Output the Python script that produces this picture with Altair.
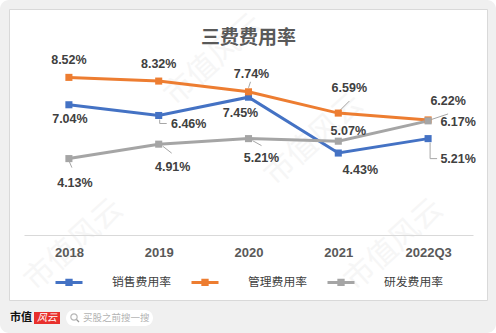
import json
import altair as alt
import pandas as pd

# ---------------- data ----------------
years = ["2018", "2019", "2020", "2021", "2022Q3"]
sales_rate = [7.04, 6.46, 7.45, 4.43, 5.21]
admin_rate = [8.52, 8.32, 7.74, 6.59, 6.22]
rd_rate = [4.13, 4.91, 5.21, 5.07, 6.17]
series = ["销售费用率", "管理费用率", "研发费用率"]
colors = ["#4472C4", "#ED7D31", "#A5A5A5"]
title_text = "三费费用率"

# ---------------- layout (not data) ----------------
W, H = 449, 185
YMAX = 10
STEP = W / len(years)
PPU = H / YMAX
# pixel offsets of each data label from its point (per series)
label_dx = [[1, 30, -8, 22, 30], [0, 0, 3, 11, 20], [6, 14, 13, 10, 30]]
label_dy = [[14, 9, 16, 17, 20], [-17, -17, -18, -25, -19], [24, 23, 19, -10, 1]]
# leader segments: (series, point, x1, y1, x2, y2) pixel offsets from point
leaders = [
    (1, 2, 0, -4, 2, -10),
    (1, 3, -2, 1, 11, -12),
    (1, 4, 2, 0, 20, -6),
    (0, 1, 1, 4, 1, 8), (0, 1, 1, 8, 8, 8),
    (0, 4, 2, 4, 2, 20), (0, 4, 2, 20, 9, 20),
    (2, 0, 0, 2, 3, 9),
    (2, 1, 4, 2, 13, 9),
    (2, 2, 4, 2, 13, 7),
]

values = [sales_rate, admin_rate, rd_rate]
rows = []
for s, name in enumerate(series):
    for i, y in enumerate(years):
        v = values[s][i]
        rows.append({
            "series": name, "order": s, "idx": i, "year": y, "value": v,
            "label": f"{v:.2f}%",
            "lx": i + label_dx[s][i] / STEP,
            "ly": v - label_dy[s][i] / PPU,
        })
df = pd.DataFrame(rows)

lrows = []
for s, i, x1, y1, x2, y2 in leaders:
    v = values[s][i]
    lrows.append({"x1": i + x1 / STEP, "y1": v - y1 / PPU,
                  "x2": i + x2 / STEP, "y2": v - y2 / PPU})
ldf = pd.DataFrame(lrows)

xscale = alt.Scale(domain=[-0.5, len(years) - 0.5], nice=False, zero=False)
yscale = alt.Scale(domain=[0, YMAX], nice=False)
cscale = alt.Scale(domain=series, range=colors)

one = alt.Data(values=[{}])

# ---------------- decoration ----------------
outer = alt.Chart(one).mark_rect(fill="#f0f0f0", cornerRadius=9).encode(
    x=alt.value(-24), x2=alt.value(472), y=alt.value(-50), y2=alt.value(283))
card = alt.Chart(one).mark_rect(fill="white", stroke="#d9d9d9", strokeWidth=1).encode(
    x=alt.value(-14.5), x2=alt.value(463.5), y=alt.value(-40.5), y2=alt.value(250.5))

wm_layers = []
for (wx, wy) in [(190, 10), (290, 90), (50, 195), (370, 195)]:
    wm_layers.append(alt.Chart(one).mark_text(
        text="市值风云", font="Noto Sans CJK SC", fontSize=30, angle=318,
        color="#f6f6f6").encode(x=alt.value(wx), y=alt.value(wy)))

title = alt.Chart(one).mark_text(
    text=title_text, font="Noto Sans CJK SC", fontSize=19, fontWeight="bold",
    color="#595959").encode(x=alt.value(224.5), y=alt.value(-12.5))

# ---------------- chart ----------------
base = alt.Chart(df)
x_enc = alt.X("idx:Q", scale=xscale, title=None,
              axis=alt.Axis(values=list(range(len(years))),
                            labelExpr=f"{json.dumps(years)}[datum.value]",
                            domainColor="#d9d9d9", domainWidth=1, ticks=False,
                            grid=False, labelFont="Liberation Sans",
                            labelFontWeight="bold", labelFontSize=13,
                            labelColor="#595959", labelPadding=11, zindex=1))
y_enc = alt.Y("value:Q", scale=yscale, axis=None)

legend = alt.Legend(orient="none", legendX=30, legendY=217, direction="horizontal",
                    title=None,
                    symbolType="M-1,0H1M-0.16,-0.16H0.16V0.16H-0.16Z",
                    symbolSize=729, symbolStrokeWidth=3,
                    labelFont="Noto Sans CJK SC", labelFontSize=11.8,
                    labelColor="#404040", labelOffset=28, columnPadding=14,
                    zindex=1)

lines = base.mark_line(strokeWidth=3).encode(
    x=x_enc, y=y_enc,
    color=alt.Color("series:N", scale=cscale, legend=legend),
    order="idx:Q")

points = base.mark_square(size=50, opacity=1).encode(
    x="idx:Q", y="value:Q",
    color=alt.Color("series:N", scale=cscale))

leader_lines = alt.Chart(ldf).mark_rule(color="#a6a6a6", strokeWidth=1).encode(
    x="x1:Q", y="y1:Q", x2="x2:Q", y2="y2:Q")

labels = base.mark_text(font="Liberation Sans", fontSize=12.5, fontWeight="bold",
                        color="#404040").encode(
    x="lx:Q", y="ly:Q", text="label:N")

# ---------------- footer ----------------
f1 = alt.Chart(one).mark_text(text="市值", font="Noto Sans CJK SC", fontSize=11,
                              fontWeight="bold", color="#111111").encode(
    x=alt.value(-3), y=alt.value(268))
f2 = alt.Chart(one).mark_rect(fill="#e8302c").encode(
    x=alt.value(10), x2=alt.value(36), y=alt.value(262), y2=alt.value(274))
f3 = alt.Chart(one).mark_text(text="风云", font="Noto Sans CJK SC", fontSize=10,
                              fontStyle="italic", color="white").encode(
    x=alt.value(23), y=alt.value(268))
f4 = alt.Chart(one).mark_rect(fill="white", cornerRadius=8).encode(
    x=alt.value(42), x2=alt.value(129), y=alt.value(260), y2=alt.value(276))
f5 = alt.Chart(one).mark_point(shape="circle", size=40, stroke="#9a9a9a",
                               strokeWidth=1.2, filled=False).encode(
    x=alt.value(50), y=alt.value(267))
f6 = alt.Chart(one).mark_rule(stroke="#9a9a9a", strokeWidth=1.3).encode(
    x=alt.value(52.5), x2=alt.value(55), y=alt.value(269.5), y2=alt.value(272))
f7 = alt.Chart(one).mark_text(text="买股之前搜一搜", font="Noto Sans CJK SC",
                              fontSize=9.5, color="#b3b3b3", align="left").encode(
    x=alt.value(59), y=alt.value(268))

chart = alt.layer(
    outer, card, *wm_layers, title, lines, leader_lines, points, labels,
    f1, f2, f3, f4, f5, f6, f7
).properties(
    width=W, height=H,
    autosize=alt.AutoSizeParams(type="none"),
    padding={"left": 24, "top": 50, "right": 23, "bottom": 98},
    background="white",
).configure_view(stroke=None)

chart.save("out.html", embed_options={"renderer": "svg", "actions": False})
